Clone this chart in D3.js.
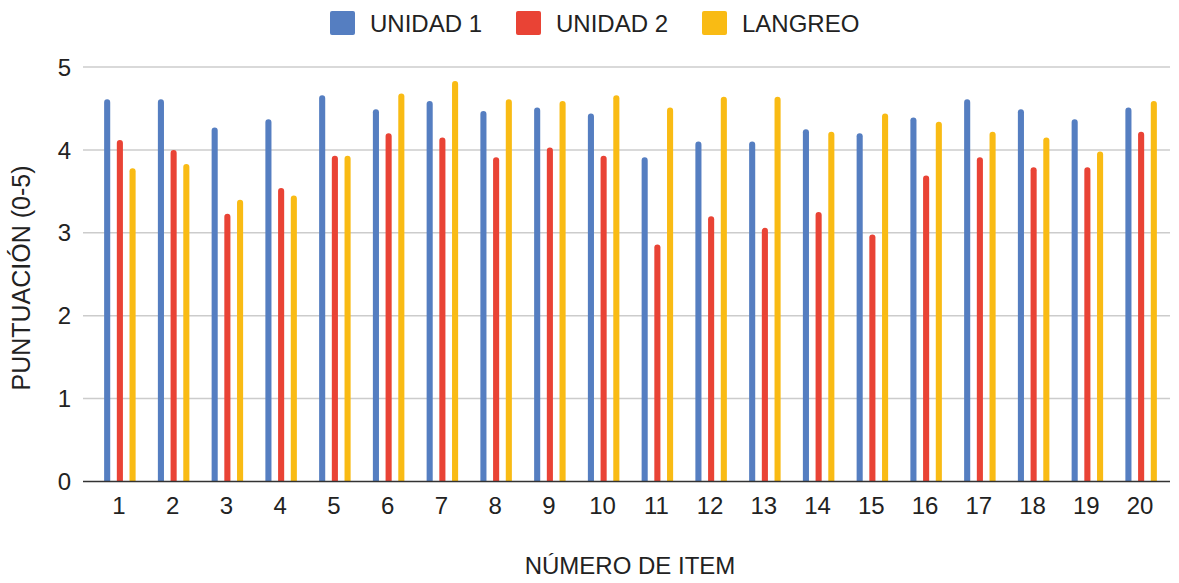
<!DOCTYPE html>
<html>
<head>
<meta charset="utf-8">
<script src="https://cdn.jsdelivr.net/npm/d3@7"></script>
<style>
  html, body { margin: 0; padding: 0; background: #fff; }
  svg { display: block; font-family: "Liberation Sans", Arial, sans-serif; }
</style>
</head>
<body>
<svg id="chart" width="1179" height="583"></svg>
<script>
const categories = ["1","2","3","4","5","6","7","8","9","10","11","12","13","14","15","16","17","18","19","20"];
const seriesNames = ["UNIDAD 1", "UNIDAD 2", "LANGREO"];
const unidad1 = [4.61,4.61,4.27,4.37,4.66,4.49,4.59,4.47,4.51,4.44,3.91,4.10,4.10,4.25,4.20,4.39,4.61,4.49,4.37,4.51];
const unidad2 = [4.12,4.00,3.23,3.54,3.93,4.20,4.15,3.91,4.03,3.93,2.86,3.20,3.06,3.25,2.98,3.69,3.91,3.79,3.79,4.22];
const langreo = [3.78,3.83,3.40,3.45,3.93,4.68,4.83,4.61,4.59,4.66,4.51,4.64,4.64,4.22,4.44,4.34,4.22,4.15,3.98,4.59];
const yTicks = [0,1,2,3,4,5];
const colors = ["#557ec1", "#e94335", "#f9bb14"];

const series = [unidad1, unidad2, langreo];
const svg = d3.select("#chart");

const plot = { left: 83, right: 1170, top: 67, bottom: 481.5 };
const x = d3.scaleBand().domain(categories).range([93, 1168]).paddingInner(0).paddingOuter(0);
const xs = d3.scaleBand().domain(seriesNames).range([-15.75, 15.75]).paddingInner(0.52).paddingOuter(0);
const y = d3.scaleLinear().domain([0, 5]).range([plot.bottom, plot.top]);

// gridlines
svg.append("g").selectAll("line").data(yTicks.filter(d => d > 0)).join("line")
  .attr("x1", plot.left).attr("x2", plot.right)
  .attr("y1", d => y(d)).attr("y2", d => y(d))
  .attr("stroke", "#cccccc").attr("stroke-width", 1.5);

// y tick labels
svg.append("g").selectAll("text").data(yTicks).join("text")
  .attr("x", 71).attr("y", d => y(d))
  .attr("dy", "0.36em")
  .attr("text-anchor", "end")
  .attr("font-size", 24).attr("fill", "#222")
  .text(d => d);

// bars
const bw = xs.bandwidth();
const r = bw / 2;
function barPath(x0, y0, w, yb) {
  const h = yb - y0;
  const rr = Math.min(r, h);
  return `M${x0},${yb} L${x0},${y0 + rr} A${rr},${rr} 0 0 1 ${x0 + rr},${y0} L${x0 + w - rr},${y0} A${rr},${rr} 0 0 1 ${x0 + w},${y0 + rr} L${x0 + w},${yb} Z`;
}
series.forEach((vals, si) => {
  svg.append("g").selectAll("path").data(categories).join("path")
    .attr("d", (c, i) => {
      const cx = x(c) + x.bandwidth() / 2;
      const x0 = cx + xs(seriesNames[si]);
      return barPath(x0, y(vals[i]), bw, y(0));
    })
    .attr("fill", colors[si]);
});

// baseline
svg.append("line")
  .attr("x1", plot.left).attr("x2", plot.right)
  .attr("y1", y(0)).attr("y2", y(0))
  .attr("stroke", "#333").attr("stroke-width", 1.5);

// x tick labels
svg.append("g").selectAll("text").data(categories).join("text")
  .attr("x", c => x(c) + x.bandwidth() / 2 - 1)
  .attr("y", 514)
  .attr("text-anchor", "middle")
  .attr("font-size", 24).attr("fill", "#222")
  .text(c => c);

// axis titles
svg.append("text")
  .attr("x", 630).attr("y", 574)
  .attr("text-anchor", "middle")
  .attr("font-size", 24).attr("fill", "#222")
  .text("NÚMERO DE ITEM");

svg.append("text")
  .attr("transform", "translate(30,278) rotate(-90)")
  .attr("text-anchor", "middle")
  .attr("font-size", 25).attr("fill", "#222")
  .text("PUNTUACIÓN (0-5)");

// legend
const legendX = [330, 516, 702];
const lg = svg.append("g").selectAll("g").data(seriesNames).join("g")
  .attr("transform", (d, i) => `translate(${legendX[i]},11)`);
lg.append("rect").attr("width", 25).attr("height", 24).attr("rx", 2).attr("fill", (d, i) => colors[i]);
lg.append("text").attr("x", 40).attr("y", 20.5)
  .attr("font-size", 24).attr("fill", "#222")
  .text(d => d);
</script>
</body>
</html>
